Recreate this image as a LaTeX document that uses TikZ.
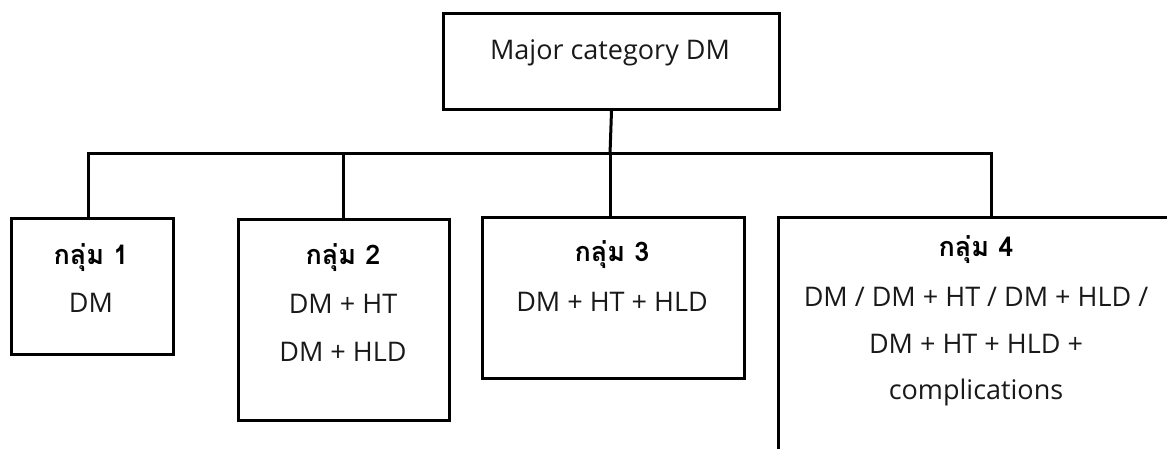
\documentclass[tikz,border=0pt]{standalone}
\usepackage{fontspec}
\setmainfont{Open Sans}
\newfontfamily\thaifont[Script=Thai]{Loma}
\tikzset{
  box/.style={draw=black, line width=3pt, rectangle, inner sep=0pt, anchor=north west},
  conn/.style={draw=black, line width=3pt},
  txt/.style={font=\fontsize{27}{30}\selectfont\color{black!90}, inner sep=0pt, anchor=center},
  head/.style={font=\thaifont\bfseries\fontsize{27}{30}\selectfont, inner sep=0pt, anchor=center},
}
\begin{document}
\begin{tikzpicture}[x=1pt,y=-1pt]
\useasboundingbox (0,0) rectangle (1167,449);
\clip (0,0) rectangle (1167,449);
% boxes
\node[box, minimum width=336pt, minimum height=96pt] (top) at (442,12) {};
\node[box, minimum width=162pt, minimum height=136pt] (b1) at (10,217) {};
\node[box, minimum width=211pt, minimum height=201pt] (b2) at (237,218) {};
\node[box, minimum width=262pt, minimum height=161pt] (b3) at (481,216) {};
\node[box, minimum width=420pt, minimum height=260pt] (b4) at (777,216) {};
% texts
\node[txt] (ttop) at (610,53) {Major category DM};
\node[head] (h1) at (91,258) {กลุ่ม 1};
\node[txt] (t1) at (91,303) {DM};
\node[head] (h2) at (343,258) {กลุ่ม 2};
\node[txt] (t2a) at (343,304) {DM + HT};
\node[txt] (t2b) at (343,352) {DM + HLD};
\node[head] (h3) at (612,255) {กลุ่ม 3};
\node[txt] (t3) at (612,302) {DM + HT + HLD};
\node[head] (h4) at (976,250) {กลุ่ม 4};
\node[txt] (t4a) at (976,297) {DM / DM + HT / DM + HLD /};
\node[txt] (t4b) at (976,344) {DM + HT + HLD +};
\node[txt] (t4c) at (976,392) {complications};
% connectors
\coordinate (j1) at (88,154);
\coordinate (j2) at (343,154);
\coordinate (j3) at (610,154);
\coordinate (j4) at (991,154);
\draw[conn] (top.south) -- (j3);
\draw[conn] (j1 |- b1.north) -- (j1) -- (j4) -- (j4 |- b4.north);
\draw[conn] (j2) -- (j2 |- b2.north);
\draw[conn] (j3) -- (j3 |- b3.north);
\end{tikzpicture}
\end{document}
